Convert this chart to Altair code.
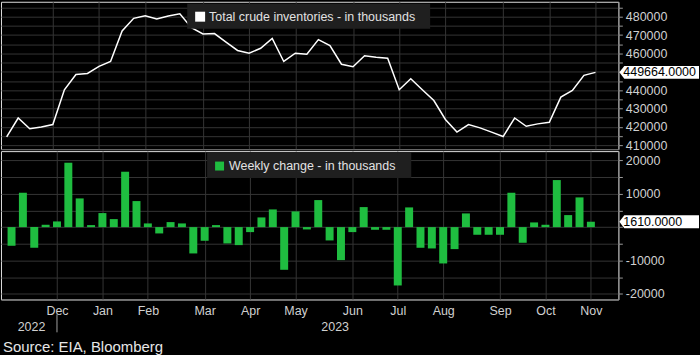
import json
import altair as alt
import pandas as pd

# ---------------- data ----------------
levels = [414500, 424800, 418900, 419900, 421200, 440200, 448500, 449100, 452900, 455600,
          472200, 479100, 480500, 478800, 480400, 481600, 474000, 470600, 470800, 466100,
          461600, 460100, 462800, 468200, 455600, 460100, 459500, 467500, 464300, 454100,
          452700, 458700, 457900, 457400, 440200, 446200, 440200, 434300, 424000, 417100,
          421200, 419400, 417100, 414700, 424800, 420300, 421600, 422500, 436200, 439800,
          448050, 449664]
changes = [-5600, 10300, -6200, 700, 1700, 19300, 8600, 600, 4200, 2400,
           16600, 7800, 1100, -1900, 1500, 1100, -7900, -4100, 600, -4900,
           -5400, -1500, 2900, 5300, -12800, 4700, -700, 8100, -4000, -9900,
           -1500, 6000, -800, -800, -17500, 5900, -6200, -6400, -10900, -6600,
           4100, -2300, -2300, -2300, 10300, -4700, 1400, 700, 14100, 3600,
           8900, 1610]
month_ticks = [4, 8, 12, 17, 21, 25, 30, 34, 38, 43, 47, 51]
month_labels = ["Dec", "Jan", "Feb", "Mar", "Apr", "May", "Jun", "Jul", "Aug", "Sep", "Oct", "Nov"]
year_labels = ["2022", "2023"]
year_break = 4
level_ticks = list(range(410000, 485001, 5000))
change_ticks = list(range(-20000, 20001, 5000))
legend_top = ["Total crude inventories - in thousands"]
legend_bottom = ["Weekly change - in thousands"]
source_text = ["Source: EIA, Bloomberg"]

# ---------------- styling ----------------
FONT = "Liberation Sans"
GREEN = "#1fbd40"
GRID = "#343434"
LABEL = "#d0d0d0"
W = 620
X0, X1 = -0.49, 52.98

df = pd.DataFrame({"week": list(range(len(levels))), "level": levels, "change": changes})
last = df.tail(1)

xs = alt.Scale(domain=[X0, X1], nice=False, zero=False)
top_x_axis = alt.Axis(values=month_ticks, labels=False, ticks=False, grid=True, gridColor=GRID,
                      domain=True, domainColor="#5a5a5a", title=None)
month_expr = f"{json.dumps(month_labels)}[indexof({json.dumps(month_ticks)}, datum.value)]"
bot_x_axis = alt.Axis(values=month_ticks, labelExpr=month_expr, ticks=False, tickSize=0,
                      grid=True, gridColor=GRID, domain=True, domainColor="#777",
                      labelPadding=5, labelColor=LABEL, labelFontSize=12.5, labelFont=FONT,
                      labelBaseline="top", title=None)


def ylab_expr(last_value, near):
    # labels every 10000; the one hidden behind the last-value callout is left out
    return (f"datum.value % 10000 == 0 && abs(datum.value - ({last_value})) > {near} "
            f"? '' + datum.value : ''")


top_y_axis = alt.Axis(orient="right", values=level_ticks,
                      labelExpr=ylab_expr(levels[-1], 4000), grid=True,
                      gridColor=GRID, domainColor="#8a8a8a", tickColor="#9a9a9a", tickSize=4,
                      labelPadding=3, labelColor=LABEL, labelFontSize=12.5, labelFont=FONT,
                      title=None)
bot_y_axis = alt.Axis(orient="right", values=change_ticks,
                      labelExpr=ylab_expr(changes[-1], 3000), grid=True,
                      gridColor=GRID, domainColor="#8a8a8a", tickColor="#9a9a9a", tickSize=4,
                      labelPadding=3, labelColor=LABEL, labelFontSize=12.5, labelFont=FONT,
                      title=None)

top_ys = alt.Scale(domain=[407835, 488140], nice=False, zero=False)
bot_ys = alt.Scale(domain=[-21700, 22780], nice=False, zero=False)

callout_path = "M0,0L5,-6.5L80,-6.5L80,6.5L5,6.5Z"

# ---------------- top panel ----------------
line = alt.Chart(df).mark_line(color="white", strokeWidth=1.5).encode(
    x=alt.X("week:Q", scale=xs, axis=top_x_axis),
    y=alt.Y("level:Q", scale=top_ys, axis=top_y_axis),
)
ltop = pd.DataFrame({"label": legend_top})
top_leg_box = alt.Chart(ltop).mark_rect(fill="#1f1f1f").encode(
    x=alt.value(187), x2=alt.value(431), y=alt.value(2), y2=alt.value(27))
top_leg_sq = alt.Chart(ltop).mark_rect(fill="white").encode(
    x=alt.value(195), x2=alt.value(205), y=alt.value(10), y2=alt.value(20))
top_leg_txt = alt.Chart(ltop).mark_text(align="left", baseline="middle", color="#e2e2e2",
                                        fontSize=12.5, font=FONT).encode(
    x=alt.value(209), y=alt.value(15), text="label:N")
top_box = alt.Chart(last).mark_point(shape=callout_path, size=4, filled=True, color="white",
                                     opacity=1, strokeWidth=0).encode(
    x=alt.value(621), y=alt.Y("level:Q", scale=top_ys, axis=top_y_axis))
top_txt = alt.Chart(last).mark_text(align="left", baseline="middle", color="black",
                                    fontSize=12.5, font=FONT).encode(
    x=alt.value(625), y=alt.Y("level:Q", scale=top_ys, axis=top_y_axis),
    text=alt.Text("level:Q", format=".4f"))
top = alt.layer(line, top_leg_box, top_leg_sq, top_leg_txt, top_box, top_txt).properties(
    width=W, height=148)

# ---------------- bottom panel ----------------
bars = alt.Chart(df).mark_bar(size=8, color=GREEN).encode(
    x=alt.X("week:Q", scale=xs, axis=bot_x_axis),
    y=alt.Y("change:Q", scale=bot_ys, axis=bot_y_axis),
)
lbot = pd.DataFrame({"label": legend_bottom})
bot_leg_box = alt.Chart(lbot).mark_rect(fill="#1f1f1f").encode(
    x=alt.value(207), x2=alt.value(412), y=alt.value(1), y2=alt.value(27))
bot_leg_sq = alt.Chart(lbot).mark_rect(fill=GREEN).encode(
    x=alt.value(215), x2=alt.value(224), y=alt.value(10.5), y2=alt.value(19.5))
bot_leg_txt = alt.Chart(lbot).mark_text(align="left", baseline="middle", color="#e2e2e2",
                                        fontSize=12.5, font=FONT).encode(
    x=alt.value(229), y=alt.value(15), text="label:N")
bot_box = alt.Chart(last).mark_point(shape=callout_path, size=4, filled=True, color="white",
                                     opacity=1, strokeWidth=0).encode(
    x=alt.value(621), y=alt.Y("change:Q", scale=bot_ys, axis=bot_y_axis))
bot_txt = alt.Chart(last).mark_text(align="left", baseline="middle", color="black",
                                    fontSize=12.5, font=FONT).encode(
    x=alt.value(625), y=alt.Y("change:Q", scale=bot_ys, axis=bot_y_axis),
    text=alt.Text("change:Q", format=".4f"))

year_df = pd.DataFrame({"label": year_labels,
                        "pos": [(X0 + year_break) / 2, (year_break + X1) / 2]})
years = alt.Chart(year_df).mark_text(align="center", baseline="middle", color=LABEL,
                                     fontSize=12.5, font=FONT).encode(
    x=alt.X("pos:Q", scale=xs, axis=bot_x_axis), y=alt.value(177), text="label:N")
year_rule = alt.Chart(pd.DataFrame({"week": [year_break]})).mark_rule(
    color="#a0a0a0", strokeWidth=1).encode(
    x=alt.X("week:Q", scale=xs, axis=bot_x_axis), y=alt.value(164), y2=alt.value(182))
source = alt.Chart(pd.DataFrame({"label": source_text})).mark_text(
    align="left", baseline="middle", color="#e6e6e6", fontSize=15, font=FONT).encode(
    x=alt.value(2), y=alt.value(196.5), text="label:N")

bottom = alt.layer(bars, bot_leg_box, bot_leg_sq, bot_leg_txt, bot_box, bot_txt,
                   years, year_rule, source).properties(width=W, height=149)

chart = alt.vconcat(top, bottom, spacing=2, bounds="flush").resolve_scale(
    y="independent").properties(padding=0, background="black").configure_view(
    stroke="transparent").configure(font=FONT)

chart.save("out.html", embed_options={"renderer": "svg", "actions": False})
